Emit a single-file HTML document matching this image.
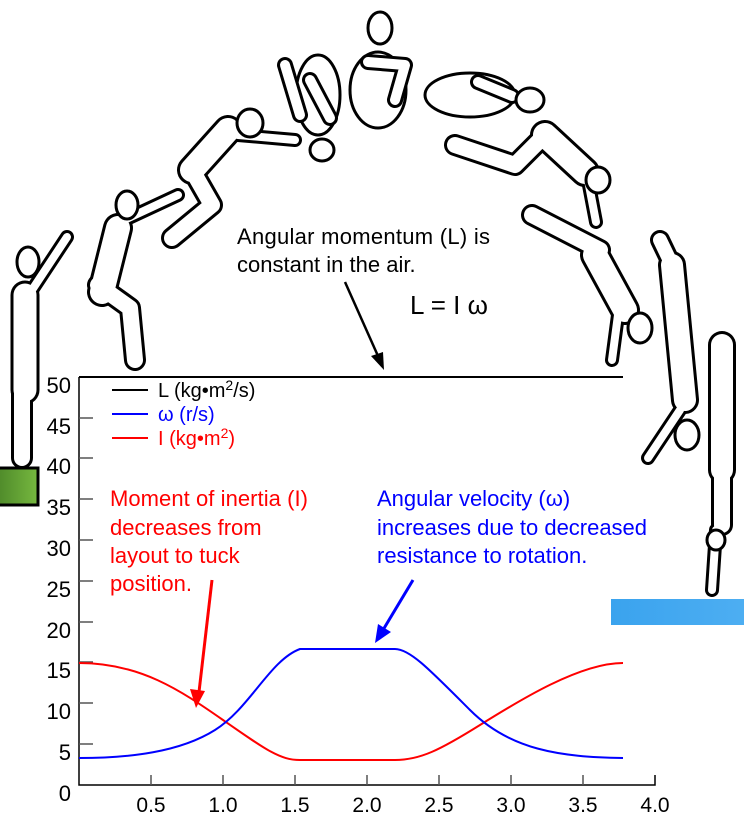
<!DOCTYPE html>
<html><head><meta charset="utf-8"><style>
body{margin:0;background:#fff}
svg{display:block}
text{font-family:"Liberation Sans",sans-serif}
</style></head><body>
<svg width="744" height="818" viewBox="0 0 744 818" xmlns="http://www.w3.org/2000/svg">
<defs>
<linearGradient id="g" x1="0" x2="1"><stop offset="0" stop-color="#4f8a2a"/><stop offset="1" stop-color="#76b83f"/></linearGradient>
<linearGradient id="b" x1="0" x2="1"><stop offset="0" stop-color="#3aa3ee"/><stop offset="1" stop-color="#4daef2"/></linearGradient>
</defs>
<rect x="-2" y="468" width="40" height="37" fill="url(#g)" stroke="#000" stroke-width="3"/>
<rect x="611" y="599" width="133" height="26" fill="url(#b)"/>
<g stroke-linecap="round" stroke-linejoin="round" fill="none">
<g stroke="#000">
<path d="M25 295L25 390" stroke-width="29"/><path d="M22 390L22 458" stroke-width="22"/><path d="M32 290L67 237" stroke-width="14"/>
<path d="M118 228L102 292" stroke-width="30"/><path d="M98 285L130 308L135 360" stroke-width="22"/><path d="M120 222L178 195" stroke-width="14"/>
<path d="M228 130L192 170" stroke-width="30"/><path d="M192 170L212 205L172 238" stroke-width="22"/><path d="M238 135L295 140" stroke-width="14"/>
<ellipse cx="318" cy="95" rx="22" ry="40" stroke-width="3"/><path d="M310 80L330 118" stroke-width="16"/><path d="M300 115L285 65" stroke-width="16"/>
<ellipse cx="378" cy="90" rx="28" ry="38" stroke-width="3"/><path d="M368 62L405 65L395 100" stroke-width="16"/>
<ellipse cx="470" cy="95" rx="45" ry="22" stroke-width="3"/><path d="M478 82L512 96" stroke-width="16"/>
<path d="M545 135L585 172" stroke-width="30"/><path d="M545 135L515 165L455 145" stroke-width="22"/><path d="M588 180L596 222" stroke-width="14"/>
<path d="M595 255L625 310" stroke-width="30"/><path d="M600 250L532 215" stroke-width="22"/><path d="M620 300L612 360" stroke-width="14"/>
<path d="M672 265L685 400" stroke-width="28"/><path d="M660 240L672 265" stroke-width="20"/><path d="M680 410L648 458" stroke-width="14"/>
<path d="M722 345L722 470" stroke-width="28"/><path d="M722 470L722 525" stroke-width="22"/><path d="M716 530L712 590" stroke-width="14"/>
</g>
<g stroke="#fff">
<path d="M25 295L25 390" stroke-width="23"/><path d="M22 390L22 458" stroke-width="16"/><path d="M32 290L67 237" stroke-width="8"/>
<path d="M118 228L102 292" stroke-width="24"/><path d="M98 285L130 308L135 360" stroke-width="16"/><path d="M120 222L178 195" stroke-width="8"/>
<path d="M228 130L192 170" stroke-width="24"/><path d="M192 170L212 205L172 238" stroke-width="16"/><path d="M238 135L295 140" stroke-width="8"/>
<path d="M310 80L330 118" stroke-width="10"/><path d="M300 115L285 65" stroke-width="10"/>
<path d="M368 62L405 65L395 100" stroke-width="10"/>
<path d="M478 82L512 96" stroke-width="10"/>
<path d="M545 135L585 172" stroke-width="24"/><path d="M545 135L515 165L455 145" stroke-width="16"/><path d="M588 180L596 222" stroke-width="8"/>
<path d="M595 255L625 310" stroke-width="24"/><path d="M600 250L532 215" stroke-width="16"/><path d="M620 300L612 360" stroke-width="8"/>
<path d="M672 265L685 400" stroke-width="22"/><path d="M660 240L672 265" stroke-width="14"/><path d="M680 410L648 458" stroke-width="8"/>
<path d="M722 345L722 470" stroke-width="22"/><path d="M722 470L722 525" stroke-width="16"/><path d="M716 530L712 590" stroke-width="8"/>
</g>
<g stroke="#000" stroke-width="3" fill="#fff">
<ellipse cx="28" cy="262" rx="11" ry="15"/><ellipse cx="127" cy="205" rx="11" ry="14"/><ellipse cx="250" cy="123" rx="13" ry="14"/>
<ellipse cx="322" cy="150" rx="12" ry="11"/><ellipse cx="380" cy="28" rx="12" ry="16"/><ellipse cx="530" cy="100" rx="14" ry="12"/>
<ellipse cx="598" cy="180" rx="12" ry="13"/><ellipse cx="640" cy="328" rx="12" ry="15"/><ellipse cx="687" cy="435" rx="12" ry="15"/>
<ellipse cx="716" cy="540" rx="9" ry="10"/>
</g>
</g>
<g stroke="#000" stroke-width="1.5" fill="none">
<path d="M79 377V785H655V775"/>
</g>
<g stroke="#555" stroke-width="1.5">
<path d="M79 744H93M79 703H93M79 662H93M79 622H93M79 581H93M79 540H93M79 499H93M79 458H93M79 418H93"/>
<path d="M151 785V775M223 785V775M295 785V775M367 785V775M439 785V775M511 785V775M583 785V775"/>
</g>
<g font-size="22" fill="#000" text-anchor="end">
<text x="71" y="393">50</text><text x="71" y="434">45</text><text x="71" y="474">40</text><text x="71" y="515">35</text><text x="71" y="556">30</text><text x="71" y="597">25</text><text x="71" y="638">20</text><text x="71" y="678">15</text><text x="71" y="719">10</text><text x="71" y="760">5</text><text x="71" y="801">0</text>
</g>
<g font-size="21" fill="#000" text-anchor="middle">
<text x="151" y="812">0.5</text><text x="223" y="812">1.0</text><text x="295" y="812">1.5</text><text x="367" y="812">2.0</text><text x="439" y="812">2.5</text><text x="511" y="812">3.0</text><text x="583" y="812">3.5</text><text x="655" y="812">4.0</text>
</g>
<path d="M79 377H623" stroke="#000" stroke-width="2"/>
<path d="M79 663 C140 663,180 690,223 720 S280 760,300 760 H395 C420 760,440 750,480 725 S580 663,623 663" stroke="#f00" stroke-width="2" fill="none"/>
<path d="M79 758 C130 758,180 752,215 730 S270 660,300 649 H395 C410 649,430 670,470 710 S560 757,623 758" stroke="#00f" stroke-width="2" fill="none"/>
<g stroke-width="2"><path d="M112 390H148" stroke="#000"/><path d="M112 414H148" stroke="#00f"/><path d="M112 438H148" stroke="#f00"/></g>
<g font-size="20">
<text x="158" y="397" fill="#000">L (kg•m<tspan dy="-7" font-size="14">2</tspan><tspan dy="7">/s)</tspan></text>
<text x="158" y="421" fill="#00f">ω (r/s)</text>
<text x="158" y="445" fill="#f00">I (kg•m<tspan dy="-7" font-size="14">2</tspan><tspan dy="7">)</tspan></text>
</g>
<g font-size="22">
<text x="237" y="244" fill="#000" textLength="253">Angular momentum (L) is</text>
<text x="237" y="272" fill="#000">constant in the air.</text>
<text x="410" y="314" font-size="26" fill="#000">L = I ω</text>
<g fill="#f00"><text x="110" y="506" textLength="198">Moment of inertia (I)</text><text x="110" y="535">decreases from</text><text x="110" y="563">layout to tuck</text><text x="110" y="591">position.</text></g>
<g fill="#00f"><text x="377" y="506">Angular velocity (ω)</text><text x="377" y="535" textLength="270">increases due to decreased</text><text x="377" y="563">resistance to rotation.</text></g>
</g>
<path d="M345 282L378 356" stroke="#000" stroke-width="2.5"/><path d="M384 370L371 356L383 352Z" fill="#000"/>
<path d="M212 580L199 692" stroke="#f00" stroke-width="3"/><path d="M196 708L190 689L205 691Z" fill="#f00"/>
<path d="M413 580L383 630" stroke="#00f" stroke-width="3"/><path d="M375 643L378 624L391 632Z" fill="#00f"/>
</svg>
</body></html>
